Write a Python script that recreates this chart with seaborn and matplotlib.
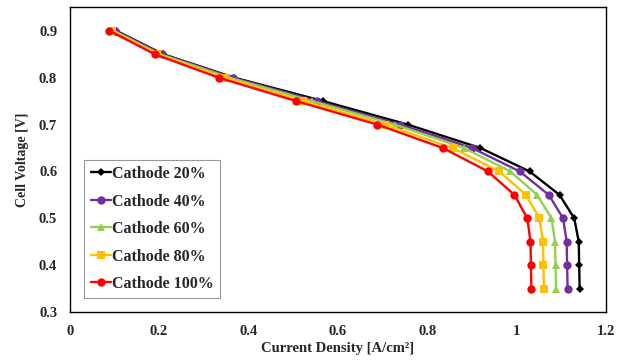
import pandas as pd
import matplotlib
matplotlib.use("Agg")
import matplotlib.pyplot as plt
import seaborn as sns

# Cell voltage levels (V) and current density (A/cm2) per cathode loading
voltage = [0.9, 0.85, 0.8, 0.75, 0.7, 0.65, 0.6, 0.55, 0.5, 0.45, 0.4, 0.35]
cathode_20 = [0.104, 0.209, 0.368, 0.567, 0.756, 0.919, 1.029, 1.096, 1.129, 1.139, 1.140, 1.141]
cathode_40 = [0.102, 0.207, 0.365, 0.553, 0.740, 0.900, 1.007, 1.072, 1.104, 1.112, 1.113, 1.114]
cathode_60 = [0.098, 0.201, 0.357, 0.542, 0.727, 0.882, 0.986, 1.046, 1.078, 1.086, 1.087, 1.088]
cathode_80 = [0.094, 0.196, 0.346, 0.523, 0.706, 0.857, 0.961, 1.021, 1.051, 1.059, 1.060, 1.061]
cathode_100 = [0.089, 0.190, 0.333, 0.507, 0.688, 0.835, 0.936, 0.995, 1.024, 1.031, 1.032, 1.033]

labels = ["Cathode 20%", "Cathode 40%", "Cathode 60%", "Cathode 80%", "Cathode 100%"]
series = [cathode_20, cathode_40, cathode_60, cathode_80, cathode_100]
colors = ["#000000", "#7030A0", "#92D050", "#FFC000", "#FF0000"]
markers = ["D", "o", "^", "s", "o"]
msizes = [4, 6, 6, 6, 6]

rows = []
for lab, vals in zip(labels, series):
    for v, j in zip(voltage, vals):
        rows.append({"Series": lab, "Current": j, "Voltage": v})
df = pd.DataFrame(rows)

sns.set_style("white")
plt.rcParams["font.family"] = ["Liberation Serif", "DejaVu Serif"]
plt.rcParams["font.weight"] = "bold"

fig = plt.figure(figsize=(6.28, 3.63), dpi=100)
ax = fig.add_axes([0.111, 0.14, 0.854, 0.84])

for lab, col, mk, ms in zip(labels, colors, markers, msizes):
    sns.lineplot(data=df[df["Series"] == lab], x="Current", y="Voltage",
                 color=col, marker=mk, markersize=ms, markeredgewidth=0,
                 linewidth=1.7, sort=False, estimator=None, label=lab, ax=ax)

ax.set_xlim(0, 1.2)
ax.set_ylim(0.3, 0.95)
ax.set_xticks([0, 0.2, 0.4, 0.6, 0.8, 1.0, 1.2])
ax.set_xticklabels(["0", "0.2", "0.4", "0.6", "0.8", "1", "1.2"])
ax.set_yticks([0.3, 0.4, 0.5, 0.6, 0.7, 0.8, 0.9])
ax.tick_params(direction="in", length=4, width=1, color="black",
               labelsize=10.5, pad=9)
for t in ax.get_xticklabels() + ax.get_yticklabels():
    t.set_fontweight("bold")
for s in ax.spines.values():
    s.set_color("black")
    s.set_linewidth(1.0)

ax.set_xlabel("Current Density [A/cm²]", fontsize=10.5, fontweight="bold", labelpad=3)
ax.set_ylabel("Cell Voltage [V]", fontsize=10, fontweight="bold", labelpad=7)

leg = ax.legend(loc="lower left", bbox_to_anchor=(0.027, 0.045),
                prop={"weight": "bold", "size": 11.5}, frameon=True,
                fancybox=False, edgecolor="#7f7f7f", handlelength=1.3,
                handletextpad=0.05, labelspacing=0.72, borderpad=0.4,
                borderaxespad=0)
leg.get_frame().set_linewidth(0.8)

fig.savefig("out.png", dpi=100)
